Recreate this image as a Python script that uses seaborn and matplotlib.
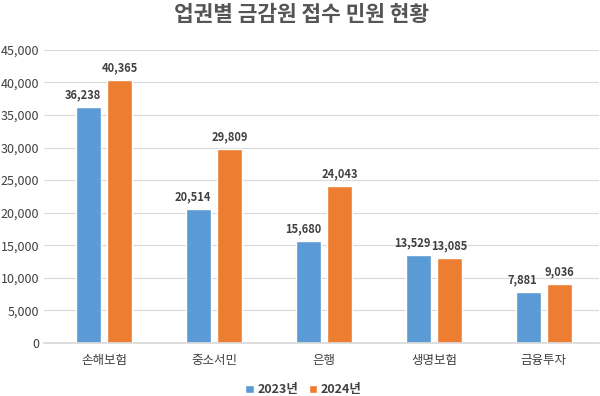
import pandas as pd
import seaborn as sns
import matplotlib.pyplot as plt
from matplotlib.ticker import FuncFormatter

# data
categories = ["손해보험", "중소서민", "은행", "생명보험", "금융투자"]
years = ["2023년", "2024년"]
values_2023 = [36238, 20514, 15680, 13529, 7881]
values_2024 = [40365, 29809, 24043, 13085, 9036]

df = pd.DataFrame({
    "업권": categories * 2,
    "연도": [years[0]] * 5 + [years[1]] * 5,
    "민원": values_2023 + values_2024,
})

sns.set_theme(style="whitegrid")
plt.rcParams['font.family'] = ['Noto Sans CJK KR', 'DejaVu Sans']

fig, ax = plt.subplots(figsize=(6, 3.96), dpi=100)
fig.subplots_adjust(left=0.073, right=0.998, bottom=0.134, top=0.874)

sns.barplot(data=df, x="업권", y="민원", hue="연도",
            palette=["#5B9BD5", "#ED7D31"], width=0.57, gap=0.2,
            saturation=1, ax=ax)

# value labels, the 2023 ones nudged left a bit like in the original
for i, cont in enumerate(ax.containers):
    dx = -4 if i == 0 else 0
    for bar, v in zip(cont, cont.datavalues):
        ax.annotate(f"{v:,.0f}", (bar.get_x() + bar.get_width() / 2, v),
                    xytext=(dx, 4), textcoords="offset points",
                    ha="center", va="bottom", fontsize=8, fontweight="bold",
                    color="#404040")

ax.set_ylim(0, 45000)
ax.set_yticks(range(0, 45001, 5000))
ax.yaxis.set_major_formatter(FuncFormatter(lambda v, p: f"{v:,.0f}"))
ax.set_xlim(-0.55, 4.5)
ax.set_xlabel("")
ax.set_ylabel("")
ax.grid(axis="y", color="#D9D9D9", linewidth=0.8)
ax.grid(axis="x", visible=False)
for s in ["top", "right", "left"]:
    ax.spines[s].set_visible(False)
ax.spines["bottom"].set_color("#D9D9D9")
ax.tick_params(axis="both", length=0, labelsize=9, colors="#404040")
ax.tick_params(axis="x", pad=8)

# title is centred on the whole figure, not on the axes
fig.suptitle("업권별 금감원 접수 민원 현황", x=0.503, y=0.99, va="top",
             fontsize=15.4, fontweight="bold", color="#555555")

leg = ax.legend(loc="upper center", bbox_to_anchor=(0.468, -0.1), ncol=2,
                frameon=False, fontsize=9, handlelength=0.7, handleheight=0.7,
                handletextpad=0.3, columnspacing=0.8)
for t in leg.get_texts():
    t.set_color("#404040")
    t.set_fontweight("bold")

fig.savefig("out.png", dpi=100)
